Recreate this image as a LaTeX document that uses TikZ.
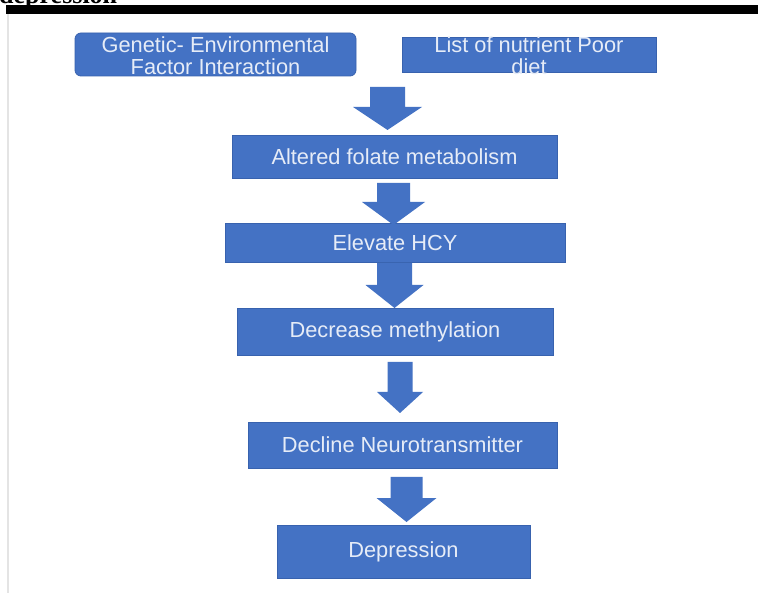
\documentclass[tikz,border=0pt]{standalone}
\usepackage{fontspec}
\setmainfont{Liberation Serif}
\newfontfamily\boxfont{Liberation Sans}
\usepackage{xcolor}
\definecolor{boxblue}{HTML}{4472C4}
\definecolor{boxline}{HTML}{3862AE}
\definecolor{boxtext}{HTML}{E6ECF7}
\definecolor{rulegray}{HTML}{E4E4E4}

% block arrow: centre x, top, start of head, tip, half shaft, half head
\newcommand{\flowarrow}[6]{%
  \fill[boxblue] (#1-#5,#2) -- (#1+#5,#2) -- (#1+#5,#3) -- (#1+#6,#3)
    -- (#1,#4) -- (#1-#6,#3) -- (#1-#5,#3) -- cycle;}

\begin{document}
\begin{tikzpicture}[x=1pt,y=-1pt,
    box/.style={draw=boxline,fill=boxblue,line width=0.8pt,inner sep=0pt},
    boxlabel/.style={text=boxtext,align=center,inner sep=0pt,
      font=\boxfont\fontsize{21.8}{22}\selectfont}]
  \clip (0,0) rectangle (758,593);
  \fill[white] (0,0) rectangle (758,593);

  % heading cut off at the top
  \node[anchor=base west,inner sep=0pt,font=\bfseries\fontsize{26}{26}\selectfont] (head) at (-1,3.5) {depression};
  \fill[black] (6,5) rectangle (758,14);
  \fill[rulegray] (7.3,14) rectangle (8.8,593);

  % top row
  \node[box,rounded corners=6pt,minimum width=281pt,minimum height=43pt] (gen) at (215.5,54.5) {};
  \node[boxlabel] (genText) at (215.5,56) {Genetic- Environmental\\Factor Interaction};
  \node[box,minimum width=254pt,minimum height=35pt] (diet) at (529,54.5) {};
  \node[boxlabel] (dietText) at (529,56) {List of nutrient Poor\\diet};

  % chain
  \node[box,boxlabel,minimum width=325pt,minimum height=43pt] (alt) at (394.5,156.5) {Altered folate metabolism};
  \node[box,boxlabel,minimum width=340pt,minimum height=39pt] (hcy) at (395,242.5) {Elevate HCY};
  \node[box,boxlabel,minimum width=316pt,minimum height=47pt] (meth) at (395,331.5) {Decrease methylation};
  \node[box,boxlabel,minimum width=309pt,minimum height=46pt] (neuro) at (402.5,445) {Decline Neurotransmitter};
  \node[box,boxlabel,minimum width=253pt,minimum height=53pt] (dep) at (403.5,551.5) {Depression};

  \flowarrow{387.5}{87}{107}{130}{17.5}{34.5}
  \flowarrow{393.5}{183}{202}{225}{16.5}{31.5}
  \flowarrow{394.5}{263}{285}{308}{17.5}{29}
  \flowarrow{400}{362}{392}{413}{12.5}{23}
  \flowarrow{406.5}{477}{498}{522}{16}{30}
\end{tikzpicture}
\end{document}
